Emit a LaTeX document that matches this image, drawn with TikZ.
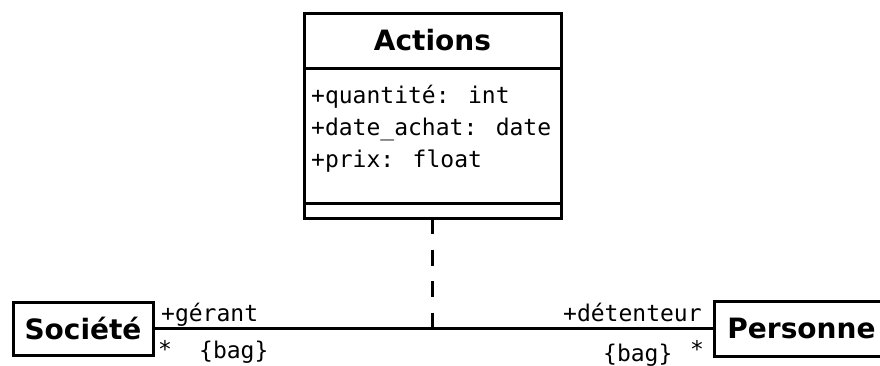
\documentclass[tikz,border=0pt]{standalone}
\usepackage{fontspec}
\setmainfont{DejaVu Sans}
\newfontfamily\monof{DejaVu Sans Mono}
\begin{document}
\begin{tikzpicture}[x=1pt,y=-1pt,
  box/.style={draw=black, line width=3pt, fill=white, outer sep=0pt, inner sep=0pt},
  cname/.style={font=\bfseries\fontsize{28}{30}\selectfont},
  mono/.style={font=\monof\fontsize{23}{28}\selectfont, inner sep=0pt, anchor=base west},
  assoc/.style={line width=3pt},
  depend/.style={line width=3pt, dash pattern=on 16pt off 15.5pt}
]
\clip (0,0) rectangle (880,365);
\fill[white] (0,0) rectangle (880,365);
% Actions class
\node[box, minimum width=257pt, minimum height=205pt, anchor=north west] (act) at (304,13) {};
\node[cname, anchor=base, inner sep=0pt] (acttitle) at (432.5,50) {Actions};
\draw[line width=3pt] (act.west |- 0,68) -- (act.east |- 0,68);
\draw[line width=3pt] (act.west |- 0,203) -- (act.east |- 0,203);
\node[mono] (a1) at (311,103) {+quantité: int};
\node[mono] (a2) at (311,135) {+date\_achat: date};
\node[mono] (a3) at (311,167) {+prix: float};
% Société and Personne
\node[box, cname, minimum width=140pt, minimum height=53pt] (soc) at (83,328.5) {Société};
\node[box, cname, minimum width=175pt, minimum height=55pt] (per) at (801.5,328.5) {Personne};
% association
\draw[assoc] (soc.east) -- (per.west);
\coordinate (mid) at (act.south |- soc.east);
\draw[depend] (act.south) -- (mid);
% role labels
\node[mono] (l1) at (161,321) {+gérant};
\node[mono] (l2) at (158,357) {*};
\node[mono] (l3) at (199,358) {\{bag\}};
\node[mono] (r1) at (563,321) {+détenteur};
\node[mono] (r2) at (690,357) {*};
\node[mono] (r3) at (603,361) {\{bag\}};
\end{tikzpicture}
\end{document}
